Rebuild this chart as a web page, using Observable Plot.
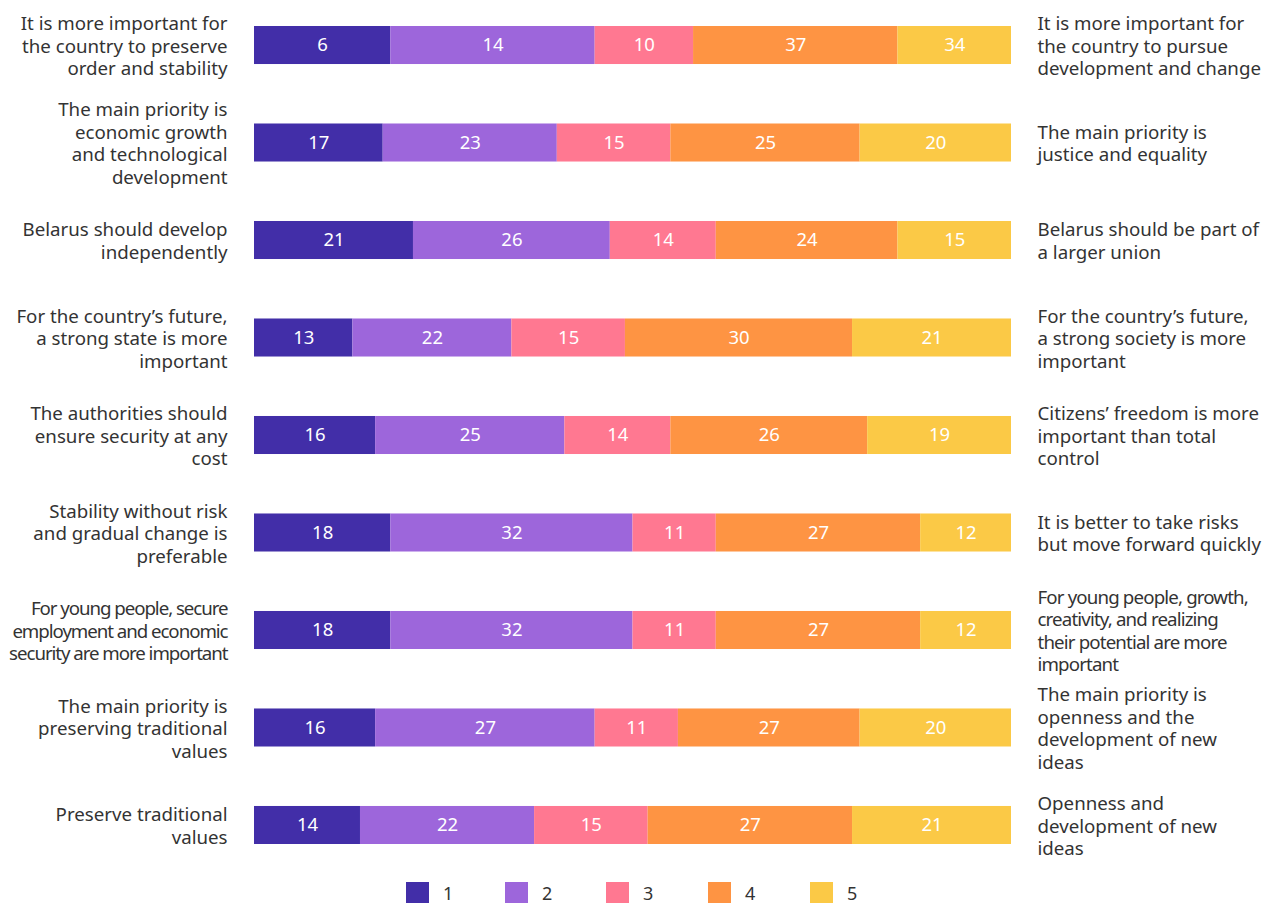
<!DOCTYPE html>
<html>
<head>
<meta charset="utf-8">
<script src="https://cdn.jsdelivr.net/npm/d3@7"></script>
<script src="https://cdn.jsdelivr.net/npm/@observablehq/plot@0.6"></script>
<style>
  html, body { margin: 0; padding: 0; background: #fff; }
  #chart { width: 1274px; font-family: "Noto Sans", sans-serif; }
  .legend { position: relative; height: 33px; font-family: "Noto Sans", sans-serif; }
  .legend .item { position: absolute; top: 12px; display: flex; align-items: center; }
  .legend .sw { width: 23px; height: 23px; }
  .legend .lab { margin-left: 14px; font-size: 18px; color: #333; line-height: 23px; }
</style>
</head>
<body>
<div id="chart"></div>
<script>
// Statements shown on the left (answer 1) and on the right (answer 5)
const leftLabels = [
  "It is more important for\nthe country to preserve\norder and stability",
  "The main priority is\neconomic growth\nand technological\ndevelopment",
  "Belarus should develop\nindependently",
  "For the country’s future,\na strong state is more\nimportant",
  "The authorities should\nensure security at any\ncost",
  "Stability without risk\nand gradual change is\npreferable",
  "For young people, secure\nemployment and economic\nsecurity are more important",
  "The main priority is\npreserving traditional\nvalues",
  "Preserve traditional\nvalues"
];
const rightLabels = [
  "It is more important for\nthe country to pursue\ndevelopment and change",
  "The main priority is\njustice and equality",
  "Belarus should be part of\na larger union",
  "For the country’s future,\na strong society is more\nimportant",
  "Citizens’ freedom is more\nimportant than total\ncontrol",
  "It is better to take risks\nbut move forward quickly",
  "For young people, growth,\ncreativity, and realizing\ntheir potential are more\nimportant",
  "The main priority is\nopenness and the\ndevelopment of new\nideas",
  "Openness and\ndevelopment of new\nideas"
];
const levels = [1, 2, 3, 4, 5];
const levelColors = ["#422ea8", "#9d66db", "#ff7891", "#fe9443", "#fbc946"];

// Bar widths (share, %) per answer level, one entry per statement
const share1 = [18, 17, 21, 13, 16, 18, 18, 16, 14];
const share2 = [27, 23, 26, 21, 25, 32, 32, 29, 23];
const share3 = [13, 15, 14, 15, 14, 11, 11, 11, 15];
const share4 = [27, 25, 24, 30, 26, 27, 27, 24, 27];
const share5 = [15, 20, 15, 21, 19, 12, 12, 20, 21];
// Numbers printed on the segments
const shown1 = [6, 17, 21, 13, 16, 18, 18, 16, 14];
const shown2 = [14, 23, 26, 22, 25, 32, 32, 27, 22];
const shown3 = [10, 15, 14, 15, 14, 11, 11, 11, 15];
const shown4 = [37, 25, 24, 30, 26, 27, 27, 27, 27];
const shown5 = [34, 20, 15, 21, 19, 12, 12, 20, 21];

const shares = [share1, share2, share3, share4, share5];
const shown = [shown1, shown2, shown3, shown4, shown5];
const rows = d3.range(leftLabels.length);

const data = [];
rows.forEach(r => levels.forEach((lv, i) => {
  data.push({row: r, level: lv, share: shares[i][r], label: shown[i][r]});
}));
const rowData = rows.map(r => ({row: r, left: leftLabels[r], right: rightLabels[r]}));

const tight = new Set([6]);
const normalRows = rowData.filter(d => !tight.has(d.row));
const tightRows = rowData.filter(d => tight.has(d.row));
const FS = 18.7;
const LH = 22.5 / FS;

const chart = Plot.plot({
  width: 1274,
  height: 870,
  marginLeft: 254,
  marginRight: 263,
  marginTop: 26,
  marginBottom: 26,
  style: {fontFamily: "Noto Sans, sans-serif", fontSize: FS + "px", background: "#fff"},
  x: {domain: [0, 100], axis: null},
  y: {domain: rows, axis: null, paddingInner: 0.61, paddingOuter: 0, round: false},
  color: {domain: levels, range: levelColors},
  marks: [
    Plot.barX(data, Plot.stackX({x: "share", y: "row", fill: "level", z: "level"})),
    Plot.text(data, Plot.stackX({x: "share", y: "row", z: "level", text: d => String(d.label),
      fill: "white", fontSize: 18.5})),
    Plot.text(normalRows, {y: "row", text: "left", frameAnchor: "left", dx: -27,
      textAnchor: "end", fill: "#333", fontSize: FS, lineHeight: LH}),
    Plot.text(tightRows, {y: "row", text: "left", frameAnchor: "left", dx: -27,
      textAnchor: "end", fill: "#333", fontSize: FS, lineHeight: LH, className: "tight-left"}),
    Plot.text(normalRows, {y: "row", text: "right", frameAnchor: "right", dx: 26,
      textAnchor: "start", fill: "#333", fontSize: FS, lineHeight: LH}),
    Plot.text(tightRows, {y: "row", text: "right", frameAnchor: "right", dx: 26,
      textAnchor: "start", fill: "#333", fontSize: FS, lineHeight: LH, className: "tight-right"})
  ]
});
document.getElementById("chart").appendChild(chart);
chart.querySelectorAll(".tight-left text").forEach(t => t.setAttribute("letter-spacing", "-1.05"));
chart.querySelectorAll(".tight-right text").forEach(t => t.setAttribute("letter-spacing", "-0.85"));

// Legend
const legend = document.createElement("div");
legend.className = "legend";
const legendX = [406, 505, 606, 708, 810];
levels.forEach((lv, i) => {
  const it = document.createElement("div");
  it.className = "item";
  it.style.left = legendX[i] + "px";
  const sw = document.createElement("div");
  sw.className = "sw";
  sw.style.background = levelColors[i];
  const lab = document.createElement("span");
  lab.className = "lab";
  lab.textContent = String(lv);
  it.appendChild(sw); it.appendChild(lab);
  legend.appendChild(it);
});
document.getElementById("chart").appendChild(legend);
</script>
</body>
</html>
